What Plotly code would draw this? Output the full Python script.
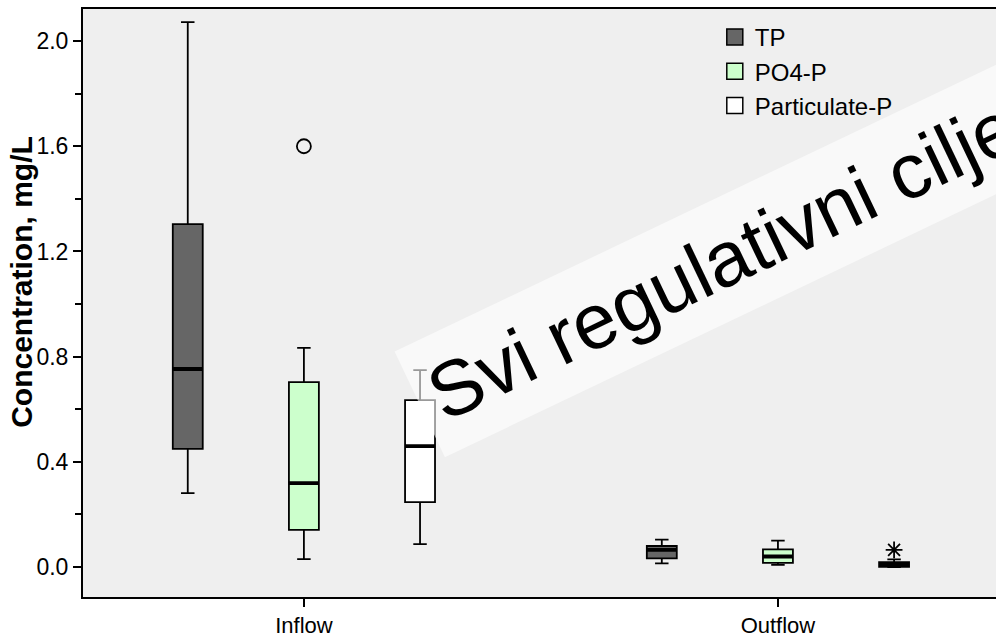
import plotly.graph_objects as go

categories = ["Inflow", "Outflow"]
series = ["TP", "PO4-P", "Particulate-P"]
colors = ["#666666", "#CCFFCC", "#FFFFFF"]

# precomputed box statistics per series: [Inflow, Outflow]
q1 = {"TP": [0.449, 0.033], "PO4-P": [0.141, 0.016], "Particulate-P": [0.247, 0.001]}
median = {"TP": [0.753, 0.065], "PO4-P": [0.319, 0.040], "Particulate-P": [0.460, 0.010]}
q3 = {"TP": [1.304, 0.080], "PO4-P": [0.703, 0.067], "Particulate-P": [0.635, 0.019]}
lowerfence = {"TP": [0.281, 0.014], "PO4-P": [0.030, 0.008], "Particulate-P": [0.087, 0.000]}
upperfence = {"TP": [2.072, 0.104], "PO4-P": [0.833, 0.100], "Particulate-P": [0.749, 0.029]}
outliers = {"TP": [[], []], "PO4-P": [[1.60], []], "Particulate-P": [[], [0.065]]}
outlier_symbol = {"TP": "circle-open", "PO4-P": "circle-open", "Particulate-P": "asterisk-open"}

y_ticks = [0.0, 0.4, 0.8, 1.2, 1.6, 2.0]
y_minor_ticks = [0.2, 0.6, 1.0, 1.4, 1.8]
y_title = "Concentration, mg/L"
banner_text = "Svi regulativni ciljevi"

FONT = "Liberation Sans, Arial, sans-serif"

fig = go.Figure()
for s, c in zip(series, colors):
    # sample points: whisker-end observations plus outliers
    pts = [[lowerfence[s][i], upperfence[s][i]] + outliers[s][i] for i in range(len(categories))]
    fig.add_trace(go.Box(
        name=s, x=categories, q1=q1[s], median=median[s], q3=q3[s],
        lowerfence=lowerfence[s], upperfence=upperfence[s],
        y=pts, boxpoints="outliers",
        fillcolor=c, line=dict(color="black", width=1.8),
        marker=dict(symbol=outlier_symbol[s], color="black", size=14,
                    line=dict(color="black", width=1.8)),
        whiskerwidth=0.45, offsetgroup=s, alignmentgroup="a",
        hoverinfo="skip", showlegend=False,
    ))
# thick median lines
for s in series:
    fig.add_trace(go.Box(
        name=s, x=categories, q1=median[s], median=median[s], q3=median[s],
        lowerfence=median[s], upperfence=median[s],
        fillcolor="rgba(0,0,0,0)", line=dict(color="black", width=3.8),
        whiskerwidth=0, offsetgroup=s, alignmentgroup="a",
        showlegend=False, hoverinfo="skip", boxpoints=False,
    ))
# legend entries (square swatches)
for s, c in zip(series, colors):
    fig.add_trace(go.Scatter(
        name=s, x=[None], y=[None], mode="markers", legendgroup=s,
        marker=dict(symbol="square", size=16, color=c,
                    line=dict(color="black", width=1.5)),
        hoverinfo="skip",
    ))

fig.add_annotation(
    text=banner_text, xref="paper", yref="paper", x=0.728, y=0.593,
    xanchor="center", yanchor="middle", showarrow=False, textangle=-25.5,
    font=dict(family=FONT, size=78, color="black"),
    bgcolor="rgba(255,255,255,0.6)", borderpad=14,
)
fig.add_annotation(
    text="<b>" + y_title + "</b>", xref="paper", yref="paper",
    x=-0.0668, y=0.536, xanchor="center", yanchor="middle",
    showarrow=False, textangle=-90,
    font=dict(family=FONT, size=30, color="black"),
)

fig.update_layout(
    width=996, height=637,
    margin=dict(l=83, r=0, t=9, b=40),
    paper_bgcolor="white", plot_bgcolor="#EFEFEF",
    boxmode="group", boxgap=0.265, boxgroupgap=0.742,
    font=dict(family=FONT, color="black"),
    legend=dict(x=0.692, y=0.99, xanchor="left", yanchor="top",
                bgcolor="rgba(0,0,0,0)", font=dict(size=24), itemwidth=30,
                tracegroupgap=0, itemsizing="trace"),
    showlegend=True,
)
fig.update_xaxes(
    type="category", range=[-0.466, 1.46],
    showline=True, linecolor="black", linewidth=2, mirror=True,
    ticks="outside", ticklen=8, tickcolor="black", tickwidth=1.5,
    tickfont=dict(size=22, family="Liberation Sans Narrow, Arial Narrow, " + FONT),
    showgrid=False, zeroline=False,
)
fig.update_yaxes(
    range=[-0.114, 2.122], tickvals=y_ticks, tickformat=".1f",
    showline=True, linecolor="black", linewidth=2,
    ticks="outside", ticklen=8, tickcolor="black", tickwidth=1.5,
    minor=dict(tickvals=y_minor_ticks, ticks="outside", ticklen=6,
               tickcolor="black", tickwidth=1.5),
    tickfont=dict(size=23), showgrid=False, zeroline=False,
)

fig.write_html("out.html")
